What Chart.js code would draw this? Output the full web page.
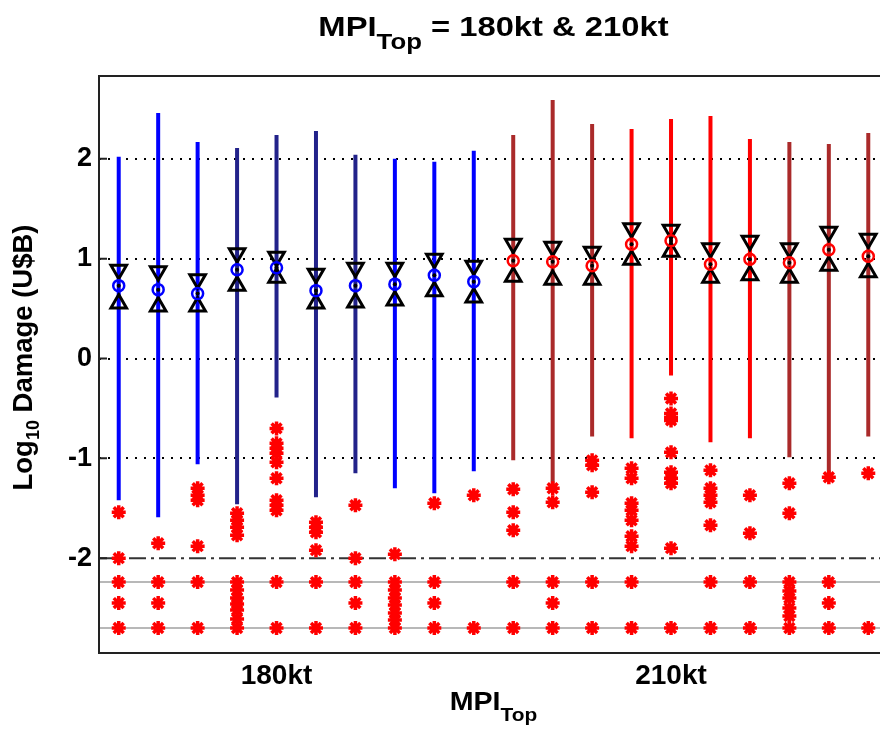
<!DOCTYPE html>
<html>
<head>
<meta charset="utf-8">
<script src="https://cdn.jsdelivr.net/npm/chart.js@4.4.1/dist/chart.umd.min.js"></script>
<style>
  html, body { margin: 0; padding: 0; background: #fff; overflow: hidden; }
  #wrap { width: 900px; height: 729px; }
</style>
</head>
<body>
<div id="wrap"><canvas id="boxChart" width="900" height="729"></canvas></div>
<script>
// ── Data ───────────────────────────────────────────────────────
const positions   = [1, 2, 3, 4, 5, 6, 7, 8, 9, 10, 11, 12, 13, 14, 15, 16, 17, 18, 19, 20];
const xTickValues = [5, 15];
const xTickLabels = ["180kt", "210kt"];
const yTickValues = [-2, -1, 0, 1, 2];

const whiskerHigh = [2.02, 2.46, 2.17, 2.11, 2.24, 2.28, 2.04, 2.00, 1.97, 2.08,
                     2.24, 2.59, 2.35, 2.30, 2.40, 2.43, 2.20, 2.17, 2.15, 2.26];
const whiskerLow  = [-1.42, -1.59, -1.06, -1.46, -0.39, -1.39, -1.15, -1.30, -1.35, -1.13,
                     -1.02, -1.31, -0.78, -0.80, -0.17, -0.84, -0.80, -0.99, -1.17, -0.78];
const notchHigh   = [0.89, 0.875, 0.795, 1.055, 1.02, 0.85, 0.91, 0.91, 1.00, 0.93,
                     1.15, 1.12, 1.07, 1.305, 1.29, 1.105, 1.18, 1.105, 1.27, 1.20];
const medians     = [0.73, 0.69, 0.65, 0.89, 0.91, 0.68, 0.73, 0.745, 0.835, 0.77,
                     0.98, 0.97, 0.93, 1.145, 1.18, 0.945, 0.995, 0.96, 1.09, 1.025];
const notchLow    = [0.55, 0.52, 0.52, 0.73, 0.81, 0.55, 0.56, 0.58, 0.675, 0.61,
                     0.82, 0.79, 0.79, 0.99, 1.07, 0.81, 0.835, 0.81, 0.93, 0.865];
const outliers = [
  [-1.54, -2.00, -2.24, -2.45, -2.70],
  [-1.85, -2.24, -2.45, -2.70],
  [-1.30, -1.37, -1.42, -1.88, -2.24, -2.70],
  [-1.55, -1.62, -1.69, -1.77, -2.24, -2.32, -2.40, -2.46, -2.52, -2.61, -2.70],
  [-0.70, -0.85, -0.90, -0.95, -1.04, -1.20, -1.42, -1.47, -1.52, -2.24, -2.70],
  [-1.64, -1.69, -1.74, -1.92, -2.24, -2.70],
  [-1.47, -2.00, -2.24, -2.45, -2.70],
  [-1.96, -2.24, -2.32, -2.40, -2.47, -2.55, -2.62, -2.70],
  [-1.45, -2.24, -2.45, -2.70],
  [-1.37, -2.70],
  [-1.31, -1.54, -1.72, -2.24, -2.70],
  [-1.30, -1.44, -2.24, -2.45, -2.70],
  [-1.02, -1.07, -1.34, -2.24, -2.70],
  [-1.10, -1.20, -1.45, -1.52, -1.62, -1.78, -1.88, -2.24, -2.70],
  [-0.40, -0.55, -0.59, -0.62, -0.94, -1.14, -1.20, -1.25, -1.90, -2.70],
  [-1.12, -1.30, -1.37, -1.44, -1.67, -2.24, -2.70],
  [-1.37, -1.75, -2.24, -2.70],
  [-1.25, -1.55, -2.24, -2.33, -2.40, -2.50, -2.58, -2.70],
  [-1.19, -2.24, -2.45, -2.70],
  [-1.15, -2.70],
];
const dashedLevel = -2;
const grayLevels  = [-2.24, -2.70];

// ── Styling ───────────────────────────────────────────────────
const X_MIN = 0.5, X_MAX = 20.5, Y_MIN = -2.95, Y_MAX = 2.83;
const FONT  = '"Liberation Sans", Arial, sans-serif';
const BLUE = "#0000ff", NAVY = "#22228a", RED = "#ff0000", BRICK = "#aa2a2a";
const whiskerColors = [BLUE, BLUE, BLUE, NAVY, NAVY, NAVY, NAVY, BLUE, BLUE, BLUE,
                       BRICK, BRICK, BRICK, RED, RED, RED, RED, BRICK, BRICK, BRICK];
const medianColors = positions.map(p => (p <= 10 ? BLUE : RED));

const pts = arr => positions.map((p, i) => ({ x: p, y: arr[i] }));
const hline = y => [{ x: X_MIN, y }, { x: X_MAX, y }];

const datasets = [
  ...positions.map((p, i) => ({
    data: [{ x: p, y: whiskerLow[i] }, { x: p, y: whiskerHigh[i] }],
    showLine: true, borderColor: whiskerColors[i], borderWidth: 4,
    borderCapStyle: "butt", pointRadius: 0, order: 3,
  })),
  {
    data: hline(dashedLevel), showLine: true, borderColor: "#333",
    borderWidth: 2, borderDash: [17, 5, 3, 5], pointRadius: 0, order: 4,
  },
  ...grayLevels.map(v => ({
    data: hline(v), showLine: true, borderColor: "#a0a0a0",
    borderWidth: 1.5, pointRadius: 0, order: 4,
  })),
  {
    data: pts(notchHigh), pointStyle: "triangle", rotation: 180, pointRadius: 9,
    borderColor: "#000", borderWidth: 3, backgroundColor: "rgba(0,0,0,0)", order: 2,
  },
  {
    data: pts(notchLow), pointStyle: "triangle", rotation: 0, pointRadius: 9,
    borderColor: "#000", borderWidth: 3, backgroundColor: "rgba(0,0,0,0)", order: 2,
  },
  {
    data: pts(medians), pointStyle: "circle", pointRadius: 5.5,
    borderColor: medianColors, borderWidth: 2.5, backgroundColor: "rgba(0,0,0,0)", order: 1,
  },
  {
    data: pts(medians), pointStyle: "circle", pointRadius: 2,
    borderWidth: 0, backgroundColor: "#000", order: 1,
  },
  {
    data: positions.flatMap((p, i) => outliers[i].map(v => ({ x: p, y: v }))),
    pointStyle: "star", pointRadius: 7, borderColor: RED, borderWidth: 3.5,
    backgroundColor: RED, order: 0,
  },
];

// ── Text with subscripts, frame, inward ticks ─────────────────
function drawParts(ctx, parts, cx, baseY, sx) {
  let total = 0;
  parts.forEach(p => { ctx.font = `bold ${p.size}px ${FONT}`; p.w = ctx.measureText(p.t).width; total += p.w; });
  ctx.save();
  ctx.translate(cx, baseY);
  ctx.scale(sx, 1);
  let x = -total / 2;
  ctx.textAlign = "left";
  ctx.textBaseline = "alphabetic";
  parts.forEach(p => {
    ctx.font = `bold ${p.size}px ${FONT}`;
    ctx.fillText(p.t, x, p.dy);
    x += p.w;
  });
  ctx.restore();
}

const decorations = {
  id: "decorations",
  afterDraw(chart) {
    const { ctx, chartArea: a, scales } = chart;
    ctx.save();
    ctx.fillStyle = "#000";
    const cx = (a.left + a.right) / 2;
    drawParts(ctx, [{ t: "MPI", size: 28, dy: 0 }, { t: "Top", size: 22, dy: 13 },
                    { t: " = 180kt & 210kt", size: 28, dy: 0 }], cx, 36, 1.17);
    drawParts(ctx, [{ t: "MPI", size: 26, dy: 0 }, { t: "Top", size: 19, dy: 11 }], cx, 710, 1.1);
    ctx.translate(32, (a.top + a.bottom) / 2 - 7);
    ctx.rotate(-Math.PI / 2);
    drawParts(ctx, [{ t: "Log", size: 27.5, dy: 0 }, { t: "10", size: 18, dy: 7 },
                    { t: " Damage (U$B)", size: 27.5, dy: 0 }], 0, 0, 1);
    ctx.restore();

    ctx.save();
    ctx.strokeStyle = "#222";
    ctx.lineWidth = 2;
    ctx.strokeRect(a.left, a.top, a.right - a.left, a.bottom - a.top);
    ctx.beginPath();
    yTickValues.forEach(v => {
      const y = scales.y.getPixelForValue(v);
      ctx.moveTo(a.left, y);
      ctx.lineTo(a.left + 8, y);
    });
    ctx.stroke();
    ctx.restore();
  },
};

new Chart(document.getElementById("boxChart"), {
  type: "scatter",
  data: { datasets },
  plugins: [decorations],
  options: {
    responsive: false,
    devicePixelRatio: 1,
    animation: false,
    layout: { padding: { top: 76, right: 11, left: 0, bottom: 0 } },
    plugins: { legend: { display: false }, tooltip: { enabled: false } },
    scales: {
      x: {
        type: "linear", min: X_MIN, max: X_MAX,
        afterFit: s => { s.height = 76; },
        afterBuildTicks: s => { s.ticks = xTickValues.map(v => ({ value: v })); },
        grid: { display: false },
        border: { display: false },
        ticks: {
          autoSkip: false, maxRotation: 0, padding: -2, color: "#000",
          font: { family: FONT, size: 28, weight: "bold" },
          callback: v => xTickLabels[xTickValues.indexOf(v)],
        },
      },
      y: {
        type: "linear", min: Y_MIN, max: Y_MAX,
        afterFit: s => { s.width = 99; },
        afterBuildTicks: s => { s.ticks = yTickValues.map(v => ({ value: v })); },
        grid: {
          drawTicks: false, lineWidth: 2,
          color: c => (c.tick && c.tick.value === dashedLevel ? "rgba(0,0,0,0)" : "#000"),
        },
        border: { display: false, dash: [2, 7] },
        ticks: {
          padding: 7, color: "#000",
          font: { family: FONT, size: 27, weight: "bold" },
        },
      },
    },
  },
});
</script>
</body>
</html>
